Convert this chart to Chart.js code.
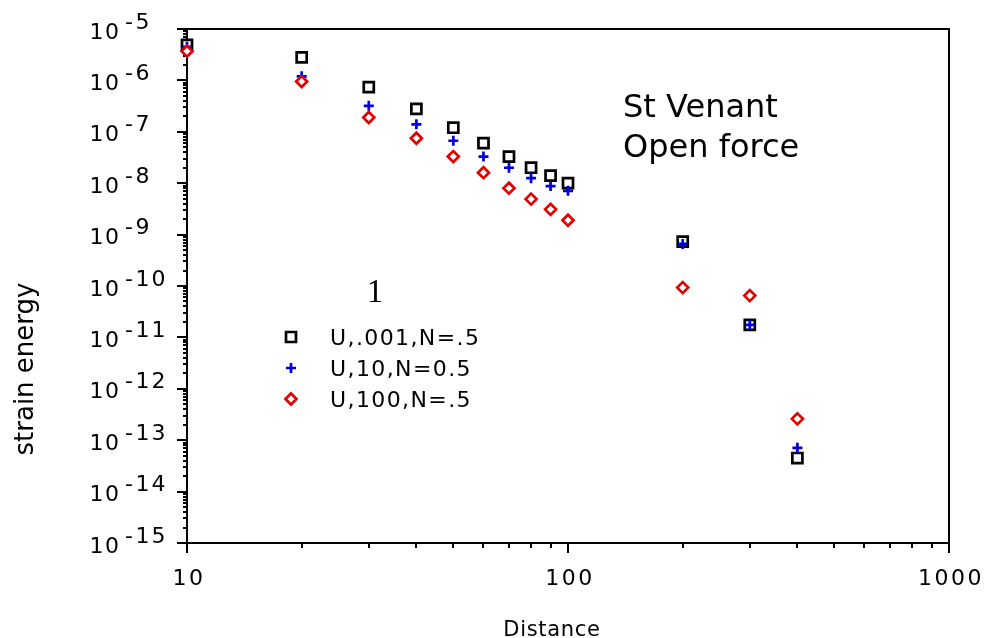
<!DOCTYPE html>
<html>
<head>
<meta charset="utf-8">
<script src="https://cdn.jsdelivr.net/npm/chart.js@4"></script>
<style>
  html, body { margin: 0; padding: 0; background: #fff; }
</style>
</head>
<body>
<canvas id="chart" width="985" height="638"></canvas>
<script>
// --- data ---
const distances = [10, 20, 30, 40, 50, 60, 70, 80, 90, 100, 200, 300, 400];
const energyU001 = [4.9e-6, 2.8e-6, 7.4e-7, 2.8e-7, 1.2e-7, 6.0e-8, 3.3e-8, 2.0e-8, 1.4e-8, 1.0e-8, 7.3e-10, 1.75e-11, 4.5e-14];
const energyU10 = [4.5e-6, 1.2e-6, 3.2e-7, 1.4e-7, 6.7e-8, 3.3e-8, 2.0e-8, 1.25e-8, 8.8e-9, 7.1e-9, 6.6e-10, 1.75e-11, 7.1e-14];
const energyU100 = [3.7e-6, 9.5e-7, 1.9e-7, 7.5e-8, 3.3e-8, 1.6e-8, 8.0e-9, 4.9e-9, 3.1e-9, 1.9e-9, 9.3e-11, 6.5e-11, 2.6e-13];
const seriesLabels = ['U,.001,N=.5', 'U,10,N=0.5', 'U,100,N=.5'];

// --- axis labels ---
const yExponents = [-5, -6, -7, -8, -9, -10, -11, -12, -13, -14, -15];
const xTickLabels = ['10', '100', '1000'];
const xTickValues = [10, 100, 1000];

const FONT = '"DejaVu Sans", Verdana, sans-serif';

function toPoints(ys) {
    return distances.map((x, i) => ({ x: x, y: ys[i] }));
}

// tick lists for the log axes (1..9 per decade)
function decadeTicks(fromExp, toExp) {
    const out = [];
    for (let e = fromExp; e <= toExp; e++) {
        for (let m = 1; m <= 9; m++) {
            if (e === toExp && m > 1) break;
            out.push({ value: m * Math.pow(10, e), major: m === 1 });
        }
    }
    return out;
}

function drawMarker(ctx, style, x, y, color) {
    ctx.save();
    ctx.strokeStyle = color;
    ctx.fillStyle = '#fff';
    ctx.lineWidth = 2.7;
    ctx.beginPath();
    if (style === 'rect') {
        ctx.rect(x - 5, y - 5, 10, 10);
        ctx.fill();
    } else if (style === 'cross') {
        ctx.moveTo(x - 5, y); ctx.lineTo(x + 5, y);
        ctx.moveTo(x, y - 5); ctx.lineTo(x, y + 5);
    } else {
        ctx.moveTo(x, y - 5.5); ctx.lineTo(x + 5.5, y);
        ctx.lineTo(x, y + 5.5); ctx.lineTo(x - 5.5, y);
        ctx.closePath();
        ctx.fill();
    }
    ctx.stroke();
    ctx.restore();
}

const framePlugin = {
    id: 'frame',
    beforeDatasetsDraw(chart) {
        const ctx = chart.ctx;
        const a = chart.chartArea;
        const xs = chart.scales.x, ys = chart.scales.y;
        ctx.save();
        ctx.strokeStyle = '#000';
        ctx.lineWidth = 2;
        // top and right frame lines
        ctx.beginPath();
        ctx.moveTo(a.left, a.top);
        ctx.lineTo(a.right, a.top);
        ctx.lineTo(a.right, a.bottom);
        ctx.stroke();
        // tick marks
        ctx.beginPath();
        ys.ticks.forEach(t => {
            const py = Math.round(ys.getPixelForValue(t.value));
            ctx.moveTo(a.left, py);
            ctx.lineTo(a.left - (t.major ? 10 : 4), py);
        });
        xs.ticks.forEach(t => {
            const px = Math.round(xs.getPixelForValue(t.value));
            ctx.moveTo(px, a.bottom);
            ctx.lineTo(px, a.bottom + (t.major ? 10 : 5));
        });
        ctx.stroke();
        ctx.restore();
    },
    afterDraw(chart) {
        const ctx = chart.ctx;
        const xs = chart.scales.x, ys = chart.scales.y;
        ctx.save();
        ctx.fillStyle = '#000';
        ctx.textBaseline = 'alphabetic';

        // y tick labels: 10 with raised exponent
        ctx.font = '22px ' + FONT;
        ctx.textAlign = 'left';
        yExponents.forEach(e => {
            const py = ys.getPixelForValue(Math.pow(10, e));
            ctx.letterSpacing = '1.5px';
            ctx.fillText('10', 89.5, py + 9.5);
            ctx.letterSpacing = '0px';
            ctx.fillText('-', 125, py - 0.5);
            ctx.letterSpacing = '2px';
            ctx.fillText(String(-e), 135.5, py - 0.5);
        });

        // x tick labels
        ctx.textAlign = 'center';
        ctx.letterSpacing = '2.5px';
        xTickValues.forEach((v, i) => {
            const px = xs.getPixelForValue(v);
            ctx.fillText(xTickLabels[i], px + 2, 585);
        });

        // axis titles
        ctx.letterSpacing = '0.7px';
        ctx.font = '21px ' + FONT;
        ctx.fillText('Distance', 552, 636);

        ctx.letterSpacing = '0px';
        ctx.save();
        ctx.translate(33, 369);
        ctx.rotate(-Math.PI / 2);
        ctx.font = '26px ' + FONT;
        ctx.fillText('strain energy', 0, 0);
        ctx.restore();

        // annotation
        ctx.textAlign = 'left';
        ctx.font = '32px ' + FONT;
        ctx.fillText('St Venant', 623, 117);
        ctx.fillText('Open force', 623, 157);

        // legend
        ctx.textAlign = 'center';
        ctx.font = '33px "Liberation Serif", serif';
        ctx.fillText('1', 375, 302);

        const rows = [337, 368, 399];
        const styles = ['rect', 'cross', 'rectRot'];
        const colors = ['#000000', '#0000dd', '#e00000'];
        ctx.textAlign = 'left';
        ctx.font = '22px ' + FONT;
        ctx.letterSpacing = '1.4px';
        rows.forEach((ry, i) => {
            drawMarker(ctx, styles[i], 291, ry, colors[i]);
            ctx.fillStyle = '#000';
            ctx.fillText(seriesLabels[i], 330, ry + 8);
        });
        ctx.restore();
    }
};

new Chart(document.getElementById('chart'), {
    type: 'scatter',
    data: {
        datasets: [
            {
                label: seriesLabels[0],
                data: toPoints(energyU001),
                pointStyle: 'rect',
                pointRadius: 7.1,
                borderColor: '#000000',
                backgroundColor: '#ffffff',
                borderWidth: 2.7,
                clip: false,
                order: 3
            },
            {
                label: seriesLabels[1],
                data: toPoints(energyU10),
                pointStyle: 'cross',
                pointRadius: 5,
                borderColor: '#0000dd',
                backgroundColor: '#0000dd',
                borderWidth: 2.7,
                clip: false,
                order: 2
            },
            {
                label: seriesLabels[2],
                data: toPoints(energyU100),
                pointStyle: 'rectRot',
                pointRadius: 5.5,
                borderColor: '#e00000',
                backgroundColor: '#ffffff',
                borderWidth: 2.7,
                clip: false,
                order: 1
            }
        ]
    },
    options: {
        responsive: false,
        animation: false,
        events: [],
        layout: { padding: { top: 29, right: 36, left: 0, bottom: 0 } },
        plugins: {
            legend: { display: false },
            tooltip: { enabled: false }
        },
        scales: {
            x: {
                type: 'logarithmic',
                position: 'bottom',
                min: 10,
                max: 1000,
                afterBuildTicks: s => { s.ticks = decadeTicks(1, 3); },
                afterFit: s => { s.height = 95; },
                ticks: { display: false },
                grid: { display: false },
                border: { display: true, color: '#000', width: 2 }
            },
            y: {
                type: 'logarithmic',
                position: 'left',
                min: 1e-15,
                max: 1e-5,
                afterBuildTicks: s => { s.ticks = decadeTicks(-15, -5); },
                afterFit: s => { s.width = 187; },
                ticks: { display: false },
                grid: { display: false },
                border: { display: true, color: '#000', width: 2 }
            }
        }
    },
    plugins: [framePlugin]
});
</script>
</body>
</html>
